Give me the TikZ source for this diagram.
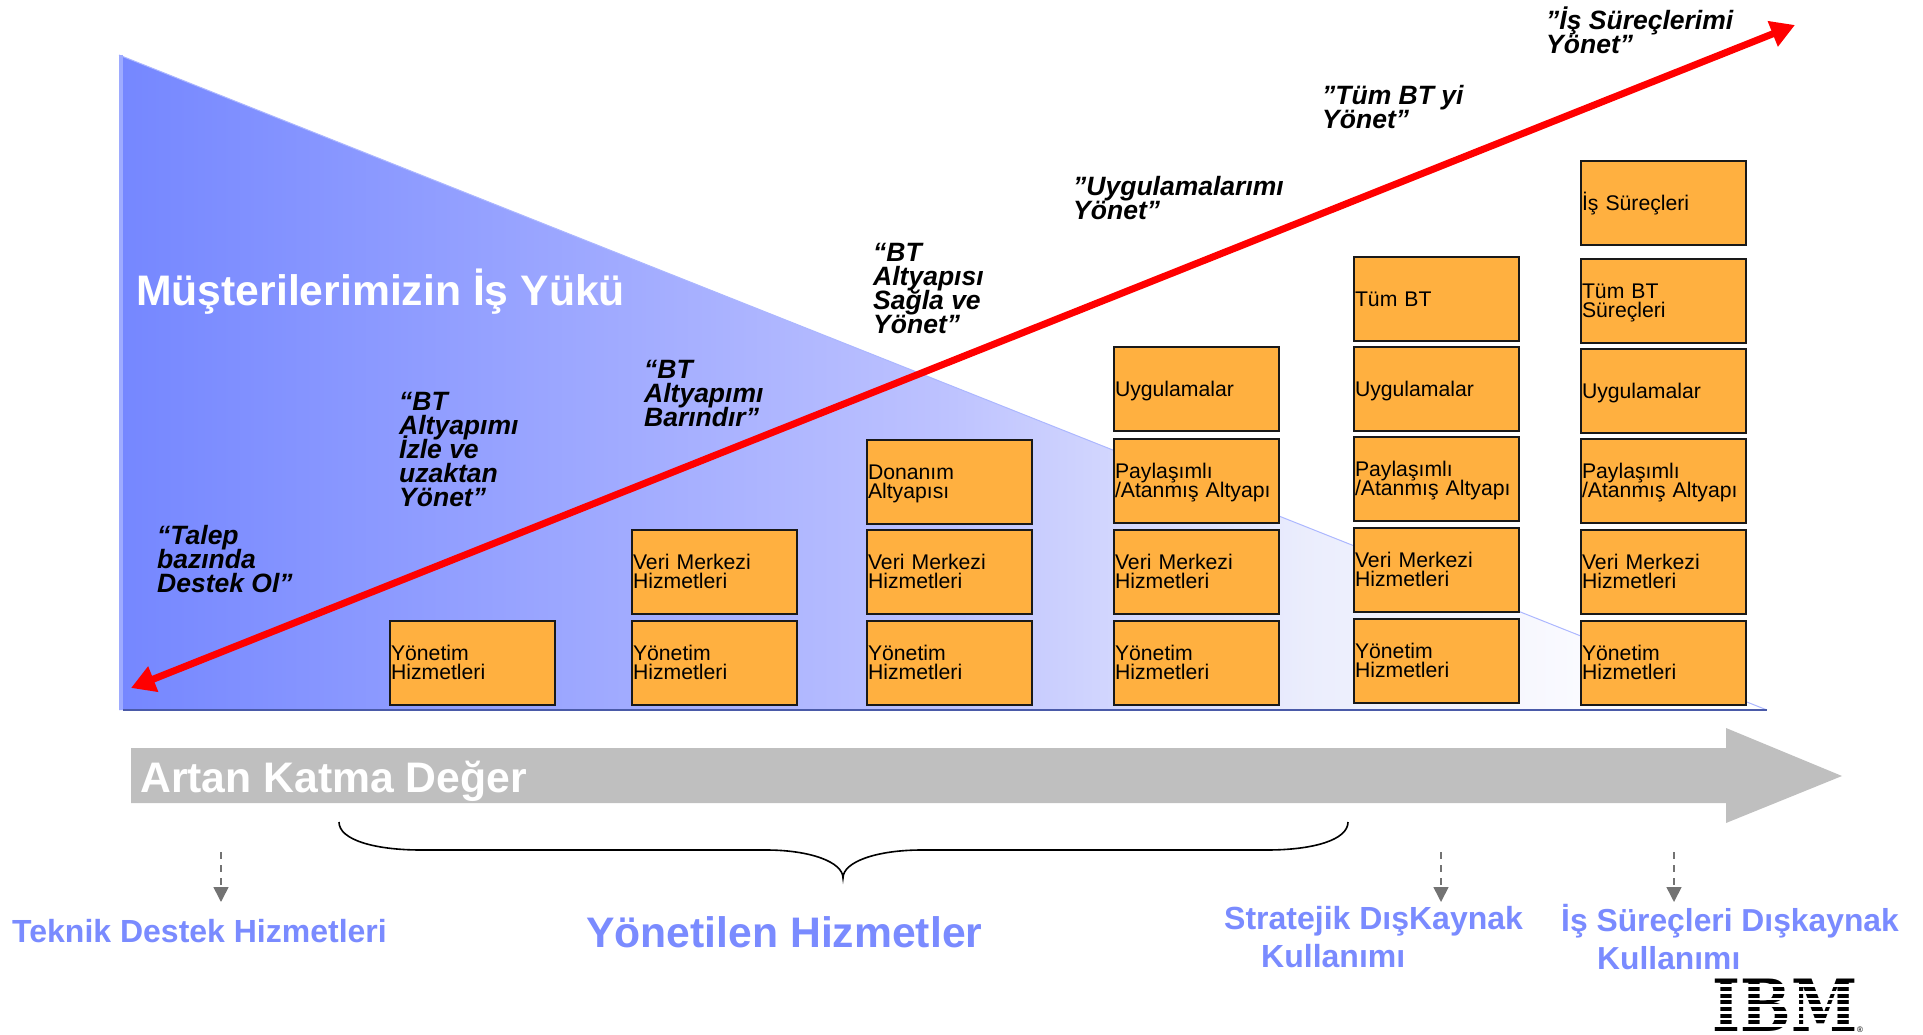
\documentclass[tikz,border=0pt]{standalone}
\usepackage{fontspec}
\setmainfont{Liberation Sans}
\usetikzlibrary{positioning}
\usetikzlibrary{arrows.meta}
\definecolor{boxorange}{HTML}{FFB040}
\definecolor{wedgeblue}{HTML}{7587FF}
\definecolor{labelblue}{HTML}{7A8BFF}
\definecolor{axisblue}{HTML}{4A5AA8}
\pgfdeclarehorizontalshading{wedgefade}{100bp}{rgb(0bp)=(0.459,0.529,1); rgb(25bp)=(0.459,0.529,1);
    rgb(50bp)=(0.74,0.76,1); rgb(61bp)=(0.92,0.93,0.99); rgb(70bp)=(0.985,0.985,1); rgb(75bp)=(1,1,1); rgb(100bp)=(1,1,1)}
\AtBeginDocument{\normallineskiplimit=-100pt \lineskiplimit=-100pt}
\tikzset{main node/.style={shape=rectangle,
    draw=black!90, line width=1.6pt, fill=boxorange, outer sep=0pt,
    minimum width=165pt, minimum height=84pt, text width=163pt, inner sep=1pt,
    execute at begin node={\rule{0pt}{18.5pt}}, execute at end node={\vphantom{y}},
    align=left, font=\fontsize{21.2}{19.5}\selectfont}}
\tikzset{quote node/.style={anchor=north west, inner sep=0pt, align=left,
    font=\fontsize{26.5}{24}\selectfont\bfseries\itshape}}
\tikzset{label node/.style={anchor=west, inner sep=0pt, align=left,
    text=labelblue, font=\fontsize{32}{38}\selectfont\bfseries}}
\tikzset{drop arrow/.style={draw=black!55, line width=1.6pt, dash pattern=on 7pt off 6pt,
    -{Triangle[length=15pt,width=15pt]}}}
\tikzset{red arrow/.style={draw=red, line width=7pt,
    {Triangle[length=24pt,width=26pt]}-{Triangle[length=24pt,width=26pt]}}}

\begin{document}
\begin{tikzpicture}[x=1pt,y=-1pt]
    \useasboundingbox (0,0) rectangle (1923,1035);

    \path[shading=wedgefade] (119,55) -- (1767,710) -- (119,710) -- cycle;
    \draw[color=wedgeblue!60, line width=1pt] (119,55) -- (1767,710);
    \draw[color=wedgeblue!70, line width=4pt] (121,55) -- (121,710);
    \draw[color=axisblue, line width=2.2pt] (123,710) -- (1767,710);

    \node[text=white, inner sep=0pt, anchor=west, font=\fontsize{42.7}{43}\selectfont\bfseries] (20) at (136,292) {Müşterilerimizin İş Yükü};

    \node[main node, anchor=north west] (1) at (390,621) {Yönetim\\Hizmetleri};

    \node[main node, anchor=north west] (2) at (632,621) {Yönetim\\Hizmetleri};
    \node[main node] (3) [above = 7pt of 2] {Veri Merkezi\\Hizmetleri};

    \node[main node, anchor=north west] (4) at (867,621) {Yönetim\\Hizmetleri};
    \node[main node] (5) [above = 7pt of 4] {Veri Merkezi\\Hizmetleri};
    \node[main node] (6) [above = 6pt of 5] {Donanım\\Altyapısı};

    \node[main node, anchor=north west] (7) at (1114,621) {Yönetim\\Hizmetleri};
    \node[main node] (8) [above = 7pt of 7] {Veri Merkezi\\Hizmetleri};
    \node[main node] (9) [above = 7pt of 8] {Paylaşımlı\\/Atanmış Altyapı};
    \node[main node] (10) [above = 8pt of 9] {Uygulamalar};

    \node[main node, anchor=north west] (11) at (1354,619) {Yönetim\\Hizmetleri};
    \node[main node] (12) [above = 7pt of 11] {Veri Merkezi\\Hizmetleri};
    \node[main node] (13) [above = 7pt of 12] {Paylaşımlı\\/Atanmış Altyapı};
    \node[main node] (14) [above = 6pt of 13] {Uygulamalar};
    \node[main node] (15) [above = 6pt of 14] {Tüm BT};

    \node[main node, anchor=north west] (16) at (1581,621) {Yönetim\\Hizmetleri};
    \node[main node] (17) [above = 7pt of 16] {Veri Merkezi\\Hizmetleri};
    \node[main node] (18) [above = 7pt of 17] {Paylaşımlı\\/Atanmış Altyapı};
    \node[main node] (19) [above = 6pt of 18] {Uygulamalar};
    \node[main node] (21) [above = 6pt of 19] {Tüm BT\\Süreçleri};
    \node[main node] (22) [above = 14pt of 21] {İş Süreçleri};

    \node[quote node] (23) at (157,525) {“Talep\\bazında\\Destek Ol”};
    \node[quote node] (24) at (399,392) {“BT\\Altyapımı\\İzle ve\\uzaktan\\Yönet”};
    \node[quote node] (25) at (644,360) {“BT\\Altyapımı\\Barındır”};
    \node[quote node] (26) at (873,243) {“BT\\Altyapısı\\Sağla ve\\Yönet”};
    \node[quote node] (27) at (1073,176) {”Uygulamalarımı\\Yönet”};
    \node[quote node] (28) at (1322,85) {”Tüm BT yi\\Yönet”};
    \node[quote node] (29) at (1546,7) {”İş Süreçlerimi\\Yönet”};

    \coordinate (a) at (131,688);
    \coordinate (b) at (1795,25);
    \path (a) edge[red arrow] node {} (b);

    \fill[black!25] (131,748) -- (1726,748) -- (1726,728) -- (1842,776) -- (1726,823) -- (1726,803) -- (131,803) -- cycle;
    \node[text=white, inner sep=0pt, anchor=west, font=\fontsize{42.7}{43}\selectfont\bfseries] (30) at (140,781) {Artan Katma Değer};

    \draw[line width=1.6pt] (339,822) .. controls (339,840) and (375,850) .. (421,850) -- (766,850)
        .. controls (810,850) and (843,862) .. (843,878) .. controls (843,862) and (876,850) .. (922,850)
        -- (1267,850) .. controls (1313,850) and (1348,840) .. (1348,822);

    \node[label node] (31) at (12,931) {Teknik Destek Hizmetleri};
    \node[label node, font=\fontsize{42.7}{43}\selectfont\bfseries] (32) at (586,932) {Yönetilen Hizmetler};
    \node[label node, anchor=north west] (33) at (1224,906) {Stratejik DışKaynak\\\hspace*{37pt}Kullanımı};
    \node[label node, anchor=north west, font=\fontsize{31.8}{38}\selectfont\bfseries] (34) at (1561,904) {İş Süreçleri Dışkaynak\\\hspace*{36pt}Kullanımı};

    \coordinate (c1) at (221,852);
    \coordinate (c2) at (221,902);
    \coordinate (d1) at (1441,852);
    \coordinate (d2) at (1441,902);
    \coordinate (e1) at (1674,852);
    \coordinate (e2) at (1674,902);
    \path (c1) edge[drop arrow] node {} (c2)
    (d1) edge[drop arrow] node {} (d2)
    (e1) edge[drop arrow] node {} (e2)
    ;

    \node[inner sep=0pt, xscale=0.83, font=\fontsize{72}{72}\selectfont\bfseries] (35) at (1785,1005) {\fontspec{DejaVu Serif}IBM};
    \foreach \y in {985.6,992.2,998.8,1005.5,1012.2,1018.8,1025.4}
        \fill[white] (1700,\y-1.3) rectangle (1870,\y+1.3);
    \node[inner sep=0pt, font=\fontsize{8}{8}\selectfont] (36) at (1860,1030) {®};
\end{tikzpicture}
\end{document}
